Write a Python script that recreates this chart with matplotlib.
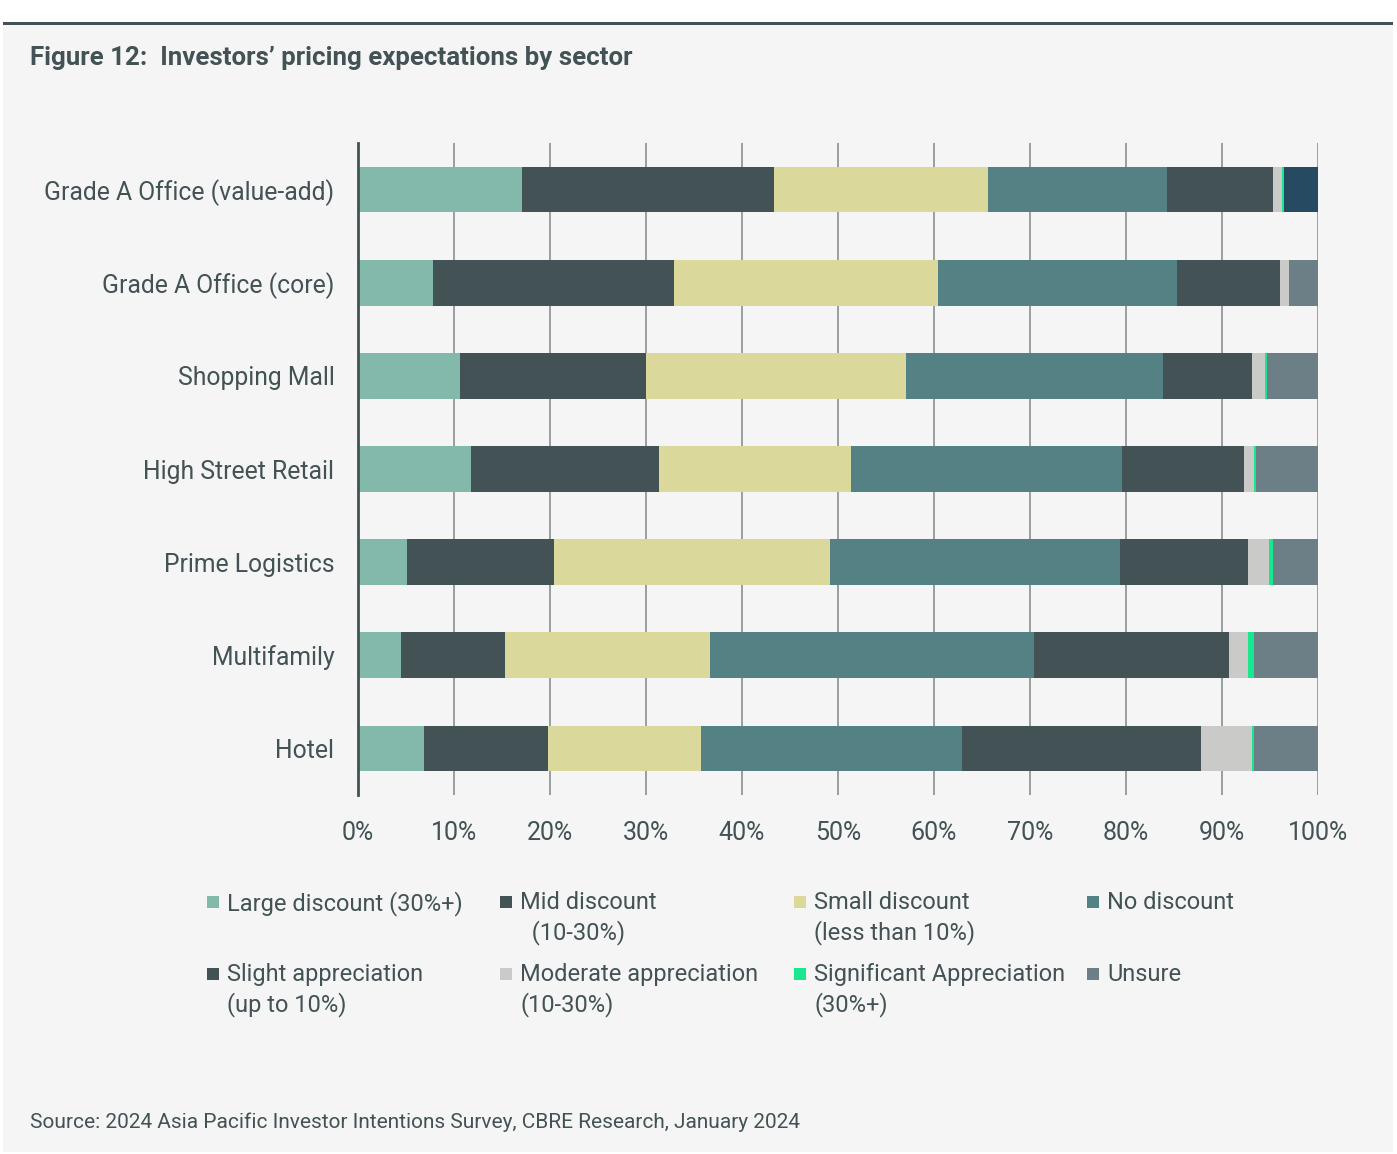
import matplotlib
matplotlib.use("Agg")
import matplotlib.pyplot as plt
from matplotlib.patches import Rectangle
import numpy as np

plt.rcParams['font.family'] = ['Roboto', 'DejaVu Sans']

sectors = ["Grade A Office (value-add)", "Grade A Office (core)", "Shopping Mall",
           "High Street Retail", "Prime Logistics", "Multifamily", "Hotel"]
series = ["Large discount (30%+)", "Mid discount\n  (10-30%)", "Small discount\n(less than 10%)",
          "No discount", "Slight appreciation\n(up to 10%)", "Moderate appreciation\n(10-30%)",
          "Significant Appreciation\n(30%+)", "Unsure"]
large = [17.1, 7.8, 10.6, 11.8, 5.1, 4.5, 6.9]
mid = [26.2, 25.1, 19.4, 19.6, 15.3, 10.8, 12.9]
small = [22.3, 27.5, 27.1, 20.0, 28.8, 21.4, 15.9]
nodisc = [18.7, 24.9, 26.8, 28.2, 30.2, 33.7, 27.2]
slight = [11.0, 10.7, 9.2, 12.7, 13.3, 20.3, 24.9]
moderate = [1.0, 1.0, 1.4, 1.0, 2.2, 2.0, 5.3]
significant = [0.2, 0.0, 0.2, 0.2, 0.4, 0.6, 0.2]
unsure = [3.5, 3.0, 5.3, 6.5, 4.7, 6.7, 6.7]
values = [large, mid, small, nodisc, slight, moderate, significant, unsure]
colors = ["#82b9aa", "#435254", "#dbd89b", "#538184", "#435254", "#cacbc8", "#17e88f", "#6d7f86"]
special_color = "#254a62"  # first row "Unsure" segment drawn in dark blue
ticks = [0, 10, 20, 30, 40, 50, 60, 70, 80, 90, 100]
tick_labels = [f"{t}%" for t in ticks]

TXT = "#435254"
W, H = 1397, 1154
fig = plt.figure(figsize=(W / 100, H / 100), dpi=100)
fig.patch.set_facecolor("white")
# grey panel
fig.add_artist(Rectangle((3 / W, 1 - 1152 / H), 1390 / W, (1152 - 24) / H,
                         transform=fig.transFigure, facecolor="#f5f5f5", edgecolor="none", zorder=0))
# top rule
fig.add_artist(Rectangle((3 / W, 1 - 25 / H), 1390 / W, 3 / H,
                         transform=fig.transFigure, facecolor="#435254", edgecolor="none", zorder=1))

ax = fig.add_axes([358 / W, 1 - 795 / H, 960 / W, (795 - 143) / H])
ax.set_facecolor("none")
y = np.arange(len(sectors))
left = np.zeros(len(sectors))
for i, (vals, c) in enumerate(zip(values, colors)):
    bars = ax.barh(y, vals, left=left, height=0.49, color=c, zorder=3)
    if i == len(values) - 1:
        bars[0].set_facecolor(special_color)
    left += np.array(vals)

ax.set_ylim(6.5, -0.5)
ax.set_xlim(0, 100)
ax.set_yticks(y)
ax.set_yticklabels(sectors, fontsize=17.8, color=TXT)
ax.set_xticks(ticks)
ax.set_xticklabels(tick_labels, fontsize=18, color=TXT)
ax.tick_params(axis="y", length=0, pad=17)
ax.tick_params(axis="x", length=0, pad=19)
ax.grid(axis="x", color="#8a8f90", linewidth=1.2, zorder=0)
for s in ["top", "right", "bottom"]:
    ax.spines[s].set_visible(False)
ax.spines["left"].set_color("#435254")
ax.spines["left"].set_linewidth(2)
ax.spines["left"].set_zorder(5)

# title and source
fig.text(30 / W, 1 - 58 / H, "Figure 12:  Investors\u2019 pricing expectations by sector",
         fontsize=18.6, fontweight="bold", color=TXT, va="center", ha="left")
fig.text(30 / W, 1 - 1122 / H, "Source: 2024 Asia Pacific Investor Intentions Survey, CBRE Research, January 2024",
         fontsize=15, color=TXT, va="center", ha="left")

# legend (manual)
col_x = [207, 500, 794, 1087]
row_y = [902, 974]
for k, (lab, c) in enumerate(zip(series, colors)):
    cx = col_x[k % 4]
    ry = row_y[k // 4]
    fig.add_artist(Rectangle((cx / W, 1 - (ry + 6) / H), 12 / W, 12 / H,
                             transform=fig.transFigure, facecolor=c, edgecolor="none"))
    fig.text((cx + 20) / W, 1 - (ry - 11) / H, lab, fontsize=17, color=TXT,
             va="top", ha="left", linespacing=1.3)

fig.savefig("out.png", dpi=100, facecolor=fig.get_facecolor())
